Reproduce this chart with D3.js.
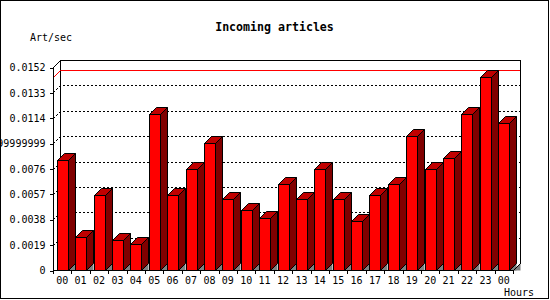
<!DOCTYPE html>
<html>
<head>
<meta charset="utf-8">
<script src="https://cdn.jsdelivr.net/npm/d3@7"></script>
<style>
html,body{margin:0;padding:0;background:#fff;}
svg{display:block;}
text{font-family:"DejaVu Sans Mono",monospace;}
</style>
</head>
<body>
<svg id="c" width="550" height="300"></svg>
<script>
const hours = ["00","01","02","03","04","05","06","07","08","09","10","11","12","13","14","15","16","17","18","19","20","21","22","23","00"];
const values = [0.00824,0.00250,0.00559,0.00225,0.00192,0.01166,0.00559,0.00754,0.00949,0.00529,0.00447,0.00387,0.00642,0.00529,0.00754,0.00529,0.00364,0.00559,0.00642,0.01001,0.00754,0.00836,0.01166,0.01444,0.01098];
const tickValues = [0,0.0019,0.0038,0.0057,0.0076,0.0095,0.0114,0.0133,0.0152];
const tickLabels = ["0","0.0019","0.0038","0.0057","0.0076","0.009499999999999999","0.0114","0.0133","0.0152"];
const title = "Incoming articles";
const yTitle = "Art/sec";
const xTitle = "Hours";

const svg = d3.select("#c");
const L = 53, R = 513, B = 270, T = 67, DX = 7, DY = 7;
const idx = hours.map((h,i)=>i);
const x = d3.scaleBand().domain(idx).range([L,R]).padding(0);
const y = d3.scaleLinear().domain([0,0.0152]).range([B,T]);
const bw = 11;

svg.append("rect").attr("x",0).attr("y",0).attr("width",550).attr("height",300).attr("fill","#fff");
svg.append("rect").attr("x",0.5).attr("y",0.5).attr("width",548).attr("height",298)
  .attr("fill","none").attr("stroke","#000");

const g = svg.append("g").attr("shape-rendering","crispEdges");

// back wall
g.append("path").attr("d",`M${L+DX+0.5},${B-DY+0.5}V${T-DY+0.5}H${R+DX+0.5}V${B-DY+0.5}`)
  .attr("fill","none").attr("stroke","#000");

// grid lines (dotted) incl. diagonal pieces
tickValues.slice(1,-1).forEach(v=>{
  const yy = Math.round(y(v))+0.5;
  g.append("path").attr("d",`M${L+0.5},${yy}L${L+DX+0.5},${yy-DY}H${R+DX}`)
    .attr("fill","none").attr("stroke","#000").attr("stroke-dasharray","2,2");
});

// max line (red)
const vmax = d3.max(values);
const ym = Math.round(y(vmax))+0.5;
svg.append("path").attr("d",`M${L+0.5},${ym}L${L+DX+0.5},${ym-DY}H${R+DX}`)
  .attr("fill","none").attr("stroke","#f00");

// bars
const bars = svg.append("g").attr("stroke","#000").attr("stroke-linejoin","miter");
values.forEach((v,i)=>{
  const x0 = Math.round(x(i) + (x.bandwidth()-bw)/2)+0.5;
  const yt = Math.round(y(v))+0.5;
  const yb = B+0.5;
  bars.append("path").attr("d",`M${x0+bw},${yb}L${x0+bw+DX},${yb-DY}V${yb}Z`).attr("fill","#808080").attr("stroke","none");
  bars.append("path").attr("d",`M${x0+bw},${yt}L${x0+bw+DX},${yt-DY}V${yb-DY}L${x0+bw},${yb}Z`).attr("fill","#800000");
  bars.append("path").attr("d",`M${x0},${yt}L${x0+DX},${yt-DY}H${x0+bw+DX}L${x0+bw},${yt}Z`).attr("fill","#c00000");
  bars.append("rect").attr("x",x0).attr("y",yt).attr("width",bw).attr("height",yb-yt).attr("fill","#f00");
});

// floor right end
svg.append("path").attr("d",`M${R+0.5},${B+0.5}L${R+DX+0.5},${B-DY+0.5}V${B+0.5}Z`).attr("fill","#808080").attr("stroke","none");

// front axes
const fa = svg.append("g").attr("shape-rendering","crispEdges");
fa.append("path").attr("d",`M${L+DX+0.5},${T-DY+0.5}L${L+0.5},${T+0.5}V${B+0.5}H${R+0.5}L${R+DX+0.5},${B-DY+0.5}`)
  .attr("fill","none").attr("stroke","#000");

// y axis
const yAxis = d3.axisLeft(y).tickValues(tickValues).tickFormat((d,i)=>tickLabels[i]).tickSize(4).tickPadding(4);
const ya = svg.append("g").attr("transform",`translate(${L+0.5},0.5)`).call(yAxis);
ya.select(".domain").remove();
ya.selectAll("text").attr("font-family","DejaVu Sans Mono").attr("font-size","10px").attr("fill","#000");
ya.selectAll("line").attr("stroke","#000").attr("shape-rendering","crispEdges");

// x axis labels
const xAxis = d3.axisBottom(x).tickFormat(i=>hours[i]).tickSize(0).tickPadding(6.5);
const xa = svg.append("g").attr("transform",`translate(0,${B})`).call(xAxis);
xa.select(".domain").remove();
xa.selectAll("text").attr("font-family","DejaVu Sans Mono").attr("font-size","10px").attr("fill","#000");
// boundary ticks
svg.append("g").attr("shape-rendering","crispEdges").selectAll("line").data(idx.concat([hours.length]))
  .join("line")
  .attr("x1",i=>Math.round(i<hours.length?x(i):R)+0.5).attr("x2",i=>Math.round(i<hours.length?x(i):R)+0.5)
  .attr("y1",B).attr("y2",B+4).attr("stroke","#000");

svg.append("text").attr("x",274.5).attr("y",30.5).attr("text-anchor","middle")
  .attr("font-size","11.6px").attr("font-weight","bold").text(title);
svg.append("text").attr("x",30).attr("y",40.5).attr("font-size","10px").text(yTitle);
svg.append("text").attr("x",534).attr("y",295.5).attr("text-anchor","end").attr("font-size","10px").text(xTitle);
</script>
</body>
</html>
